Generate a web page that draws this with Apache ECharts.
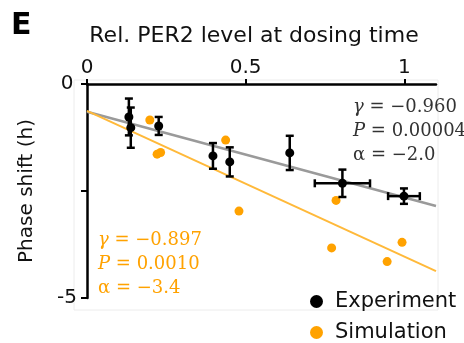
<!DOCTYPE html>
<html>
<head>
<meta charset="utf-8">
<script src="https://cdn.jsdelivr.net/npm/echarts@6/dist/echarts.min.js"></script>
<style>
html,body{margin:0;padding:0;background:#fff}
#chart{width:464px;height:343px}
</style>
</head>
<body>
<div id="chart"></div>
<script>
// experiment (mean, error bars)
var expX = [0.132, 0.138, 0.226, 0.397, 0.450, 0.639, 0.805, 0.999];
var expY = [-0.77, -1.02, -0.98, -1.68, -1.82, -1.61, -2.32, -2.62];
var expYErr = [0.43, 0.47, 0.21, 0.30, 0.34, 0.40, 0.32, 0.18];
var expXErr = [0, 0, 0, 0, 0, 0, 0.087, 0.05];
// simulation
var simX = [0.198, 0.221, 0.232, 0.437, 0.479, 0.771, 0.785, 0.946, 0.993];
var simY = [-0.84, -1.64, -1.60, -1.31, -2.97, -3.83, -2.72, -4.15, -3.70];
// regression lines (end points)
var fitX = [0, 1.1];
var expFit = [-0.65, -2.85];
var simFit = [-0.63, -4.37];
var xTicks = [0, 0.5, 1];
var yTicks = [0, -2.5, -5];
var yLabels = [0, -5];

var SANS = 'DejaVu Sans';
var SERIF = 'DejaVu Serif';
var ORANGE = '#ffa200';

function zip(a, b) {
    return a.map(function (v, i) { return [v, b[i]]; });
}

function errorBars(params, api) {
    var x = api.value(0), y = api.value(1), dx = api.value(2), dy = api.value(3);
    var st = {stroke: '#000', lineWidth: 2.5};
    var c = 4, kids = [];
    function seg(x1, y1, x2, y2) {
        kids.push({type: 'line', shape: {x1: x1, y1: y1, x2: x2, y2: y2}, style: st});
    }
    if (dy > 0) {
        var t = api.coord([x, y + dy]), b = api.coord([x, y - dy]);
        seg(t[0], t[1], b[0], b[1]);
        seg(t[0] - c, t[1], t[0] + c, t[1]);
        seg(b[0] - c, b[1], b[0] + c, b[1]);
    }
    if (dx > 0) {
        var l = api.coord([x - dx, y]), r = api.coord([x + dx, y]);
        seg(l[0], l[1], r[0], r[1]);
        seg(l[0], l[1] - c, l[0], l[1] + c);
        seg(r[0], r[1] - c, r[0], r[1] + c);
    }
    return {type: 'group', children: kids};
}

var chart = echarts.init(document.getElementById('chart'));
chart.setOption({
    animation: false,
    grid: {left: 87, top: 84, right: 28, bottom: 45, outerBoundsMode: 'none'},
    xAxis: {
        type: 'value', position: 'top', min: 0, max: 1.1,
        axisLine: {lineStyle: {color: '#000', width: 2.5}},
        axisTick: {inside: false, length: 5, customValues: xTicks, lineStyle: {color: '#000', width: 2}},
        axisLabel: {customValues: xTicks, margin: 6, color: '#111', fontFamily: SANS, fontSize: 20},
        splitLine: {show: false}
    },
    yAxis: {
        type: 'value', min: -5, max: 0,
        name: 'Phase shift (h)', nameLocation: 'middle', nameGap: 50,
        nameTextStyle: {color: '#111', fontFamily: SANS, fontSize: 20},
        axisLine: {lineStyle: {color: '#000', width: 2.5}},
        axisTick: {inside: false, length: 6, customValues: yTicks, lineStyle: {color: '#000', width: 2}},
        axisLabel: {customValues: yLabels, margin: 20, align: 'center', color: '#111', fontFamily: SANS, fontSize: 20},
        splitLine: {show: false}
    },
    legend: {
        orient: 'vertical', left: 310, top: 291, padding: 0, itemGap: 10,
        itemWidth: 13, itemHeight: 13,
        textStyle: {color: '#111', fontFamily: SANS, fontSize: 21, lineHeight: 21, padding: [0, 0, 0, 7]},
        data: [{name: 'Experiment', icon: 'circle'}, {name: 'Simulation', icon: 'circle'}]
    },
    graphic: [
        {type: 'rect', shape: {x: 74, y: 80, width: 364, height: 230}, style: {fill: 'none', stroke: '#ececec', lineWidth: 1}, z: -1},
        {type: 'text', x: 11, y: 26, style: {text: 'E', font: 'bold 30px "DejaVu Sans"', fill: '#000', verticalAlign: 'middle'}},
        {type: 'text', x: 254, y: 36, style: {text: 'Rel. PER2 level at dosing time', font: '22px "DejaVu Sans"', fill: '#111', align: 'center', verticalAlign: 'middle'}},
        {type: 'text', x: 353, y: 95, style: {
            text: '{i|γ} = −0.960\n{i|P} = 0.00004\nα = −2.0',
            fontFamily: SERIF, fontSize: 18, lineHeight: 24, fill: '#333',
            rich: {i: {fontFamily: SERIF, fontSize: 18, fontStyle: 'italic', fill: '#333'}}
        }},
        {type: 'text', x: 98, y: 228, style: {
            text: '{i|γ} = −0.897\n{i|P} = 0.0010\nα = −3.4',
            fontFamily: SERIF, fontSize: 18, lineHeight: 24, fill: ORANGE,
            rich: {i: {fontFamily: SERIF, fontSize: 18, fontStyle: 'italic', fill: ORANGE}}
        }}
    ],
    series: [
        {type: 'line', data: zip(fitX, expFit), symbol: 'none', lineStyle: {color: '#9a9a9a', width: 2.5}, z: 2},
        {type: 'line', data: zip(fitX, simFit), symbol: 'none', lineStyle: {color: '#ffb93a', width: 2}, z: 2},
        {name: 'Simulation', type: 'scatter', data: zip(simX, simY), symbolSize: 9, itemStyle: {color: ORANGE, opacity: 1}, z: 3},
        {type: 'custom', renderItem: errorBars, z: 4,
            data: expX.map(function (v, i) { return [v, expY[i], expXErr[i], expYErr[i]]; })},
        {name: 'Experiment', type: 'scatter', data: zip(expX, expY), symbolSize: 9, itemStyle: {color: '#000', opacity: 1}, z: 5}
    ]
});
</script>
</body>
</html>
